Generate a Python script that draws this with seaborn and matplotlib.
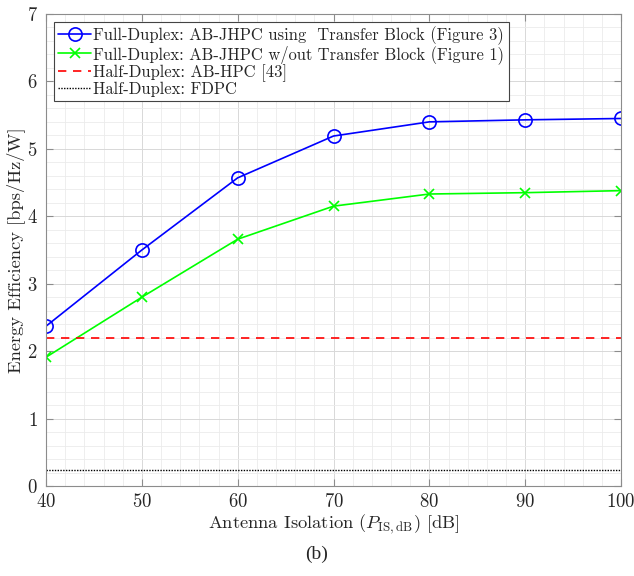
import numpy as np
import pandas as pd
import matplotlib
matplotlib.use("Agg")
import matplotlib.pyplot as plt
from matplotlib.ticker import MultipleLocator
import seaborn as sns

isolation_db = [40, 50, 60, 70, 80, 90, 100]
fd_with_tb = [2.37, 3.50, 4.57, 5.19, 5.40, 5.43, 5.45]
fd_without_tb = [1.91, 2.80, 3.66, 4.15, 4.33, 4.35, 4.38]
hd_abhpc = 2.20
hd_fdpc = 0.24

labels = [
    "Full-Duplex: AB-JHPC using  Transfer Block (Figure 3)",
    "Full-Duplex: AB-JHPC w/out Transfer Block (Figure 1)",
    "Half-Duplex: AB-HPC [43]",
    "Half-Duplex: FDPC",
]

sns.set_style("white")
plt.rcParams["font.family"] = ["cmr10", "DejaVu Serif"]
plt.rcParams["mathtext.fontset"] = "cm"
plt.rcParams["axes.formatter.use_mathtext"] = True

fig = plt.figure(figsize=(6.34, 5.76), dpi=100)
ax = fig.add_axes([0.0726, 0.15625, 0.9069, 0.8195])

df1 = pd.DataFrame({"x": isolation_db, "y": fd_with_tb})
df2 = pd.DataFrame({"x": isolation_db, "y": fd_without_tb})
df3 = pd.DataFrame({"x": [isolation_db[0], isolation_db[-1]], "y": [hd_abhpc, hd_abhpc]})
df4 = pd.DataFrame({"x": [isolation_db[0], isolation_db[-1]], "y": [hd_fdpc, hd_fdpc]})

sns.lineplot(data=df1, x="x", y="y", ax=ax, color="#0000ff", marker="o", markersize=9.5,
             markerfacecolor="none", markeredgecolor="#0000ff", markeredgewidth=1.2,
             linewidth=1.2, label=labels[0])
sns.lineplot(data=df2, x="x", y="y", ax=ax, color="#00ff00", marker="x", markersize=7,
             markeredgecolor="#00ff00", markeredgewidth=1.2, linewidth=1.2, label=labels[1])
sns.lineplot(data=df3, x="x", y="y", ax=ax, color="#ff0000", linestyle=(0, (5, 4)),
             linewidth=1.2, label=labels[2])
sns.lineplot(data=df4, x="x", y="y", ax=ax, color="black", linestyle=(0, (1, 1)),
             linewidth=1.0, label=labels[3])

ax.set_xlim(40, 100)
ax.set_ylim(0, 7)
ax.xaxis.set_major_locator(MultipleLocator(10))
ax.xaxis.set_minor_locator(MultipleLocator(2))
ax.yaxis.set_major_locator(MultipleLocator(1))
ax.yaxis.set_minor_locator(MultipleLocator(0.2))
ax.grid(which="major", color="#d8d8d8", linewidth=0.7)
ax.grid(which="minor", color="#ebebeb", linewidth=0.6)
ax.set_axisbelow(True)
for s in ax.spines.values():
    s.set_color("#8c8c8c")
    s.set_linewidth(0.8)
    s.set_visible(True)
ax.tick_params(which="major", direction="in", length=5, color="#8c8c8c", labelsize=13.5,
               top=True, right=True, bottom=True, left=True)
ax.tick_params(axis="x", which="major", pad=5)
ax.tick_params(axis="y", which="major", pad=6)
ax.tick_params(which="minor", direction="in", length=0)

ax.set_xlabel(r"Antenna Isolation ($P_{\mathrm{IS,dB}}$) [dB]", fontsize=13.3, labelpad=1)
ax.set_ylabel("Energy Efficiency [bps/Hz/W]", fontsize=13.3, labelpad=1)

leg = ax.legend(loc="upper left", fontsize=11.9, frameon=True, fancybox=False,
                edgecolor="#444444", framealpha=1, borderpad=0.25, labelspacing=0.0,
                handlelength=2.0, handletextpad=0.12, borderaxespad=0.5)
leg.get_frame().set_linewidth(0.8)

fig.text(0.50, 0.022, "(b)", ha="center", va="bottom", fontsize=14,
         family=["Liberation Serif", "DejaVu Serif"])

fig.savefig("out.png", dpi=100)
